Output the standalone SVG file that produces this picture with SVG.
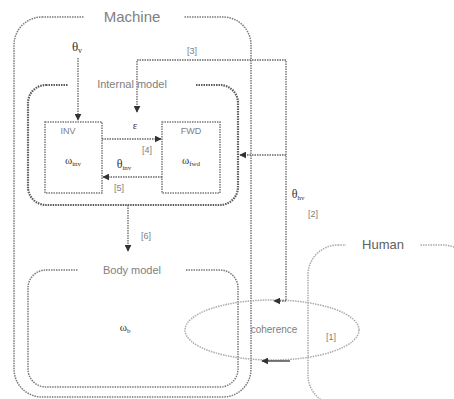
<svg xmlns="http://www.w3.org/2000/svg" width="454" height="399" viewBox="0 0 454 399">
<style>
.box{fill:none;stroke:#7a7a7a;stroke-width:1.5;stroke-dasharray:1.5 1}
.im{fill:none;stroke:#5a5a5a;stroke-width:2.2;stroke-dasharray:1.5 1}
.lt{fill:none;stroke:#aaa;stroke-width:1.5;stroke-dasharray:1.5 1}
.ln{fill:none;stroke:#666;stroke-width:1.3;stroke-dasharray:1.5 1}
.t{font-family:"Liberation Sans",Arial,sans-serif;fill:#808080;text-anchor:middle}
.s{font-family:"Liberation Serif","Times New Roman",serif;fill:#333;text-anchor:middle}
.bg{fill:#fff}
</style>
<defs>
<marker id="ah" viewBox="0 0 10 10" refX="9" refY="5" markerWidth="7" markerHeight="7" orient="auto" markerUnits="userSpaceOnUse">
<path d="M0,0 L10,5 L0,10 Z" fill="#333"/>
</marker>
</defs>
<rect width="454" height="399" fill="#fff"/>

<g id="machine">
<rect class="box" x="14" y="17" width="237" height="380" rx="28"/>
<rect class="bg" x="84" y="6" width="100" height="20"/>
<text class="t" x="132" y="22" font-size="15" fill="#707070">Machine</text>
</g>

<g id="human">
<rect class="lt" x="308" y="245" width="165" height="160" rx="30"/>
<rect class="bg" x="346" y="236" width="74" height="18"/>
<text class="t" x="383" y="249" font-size="13" style="fill:#606060">Human</text>
</g>

<g id="internal-model">
<rect class="im" x="28" y="85" width="210" height="120" rx="18"/>
<rect class="bg" x="68" y="77" width="127" height="14"/>
<text class="t" x="132" y="88" font-size="11">Internal model</text>
</g>

<g id="inv">
<rect class="box" x="45" y="122" width="57" height="71"/>
<text class="t" x="68" y="134" font-size="9">INV</text>
<text class="s" x="73" y="164" font-size="11">ω<tspan font-size="7" dy="2">inv</tspan></text>
</g>

<g id="fwd">
<rect class="box" x="162" y="122" width="58" height="71"/>
<text class="t" x="191" y="134" font-size="9">FWD</text>
<text class="s" x="191" y="164" font-size="11">ω<tspan font-size="7" dy="2">fwd</tspan></text>
</g>

<g id="body-model">
<rect class="box" x="28" y="270" width="210" height="117" rx="18"/>
<rect class="bg" x="78" y="263" width="108" height="14"/>
<text class="t" x="132" y="274" font-size="11">Body model</text>
<text class="s" x="125" y="331" font-size="11">ω<tspan font-size="7" dy="2">b</tspan></text>
</g>

<g id="coherence">
<ellipse class="lt" cx="272" cy="330" rx="87" ry="30"/>
<text class="t" x="274" y="333" font-size="10">coherence</text>
<text class="t" x="331" y="340" font-size="9">[1]</text>
</g>

<g id="connectors">
<path class="ln" d="M78,58 V120" marker-end="url(#ah)"/>
<path class="ln" d="M286,300 V60 H137 V112" marker-end="url(#ah)"/>
<path class="ln" d="M286,301 H274" marker-end="url(#ah)"/>
<path class="ln" d="M286,155 H240" marker-end="url(#ah)"/>
<path class="ln" d="M102,139 H161" marker-end="url(#ah)"/>
<path class="ln" d="M162,177 H103" marker-end="url(#ah)"/>
<path class="ln" d="M128,205 V251" marker-end="url(#ah)"/>
<path d="M290,361 H262" stroke="#333" stroke-width="1.3" fill="none" marker-end="url(#ah)"/>
</g>

<g id="labels">
<text class="s" x="77" y="51" font-size="13">θ<tspan font-size="8" dy="2">v</tspan></text>
<text class="t" x="192" y="54" font-size="9">[3]</text>
<text class="s" x="135" y="129" font-size="11">ε</text>
<text class="t" x="147" y="153" font-size="9">[4]</text>
<text class="s" x="124" y="168" font-size="12">θ<tspan font-size="7" dy="2">inv</tspan></text>
<text class="t" x="119" y="191" font-size="9">[5]</text>
<text class="t" x="146" y="239" font-size="9">[6]</text>
<text class="s" x="298" y="198" font-size="12">θ<tspan font-size="7" dy="2">hv</tspan></text>
<text class="t" x="313" y="217" font-size="9">[2]</text>
</g>
</svg>
